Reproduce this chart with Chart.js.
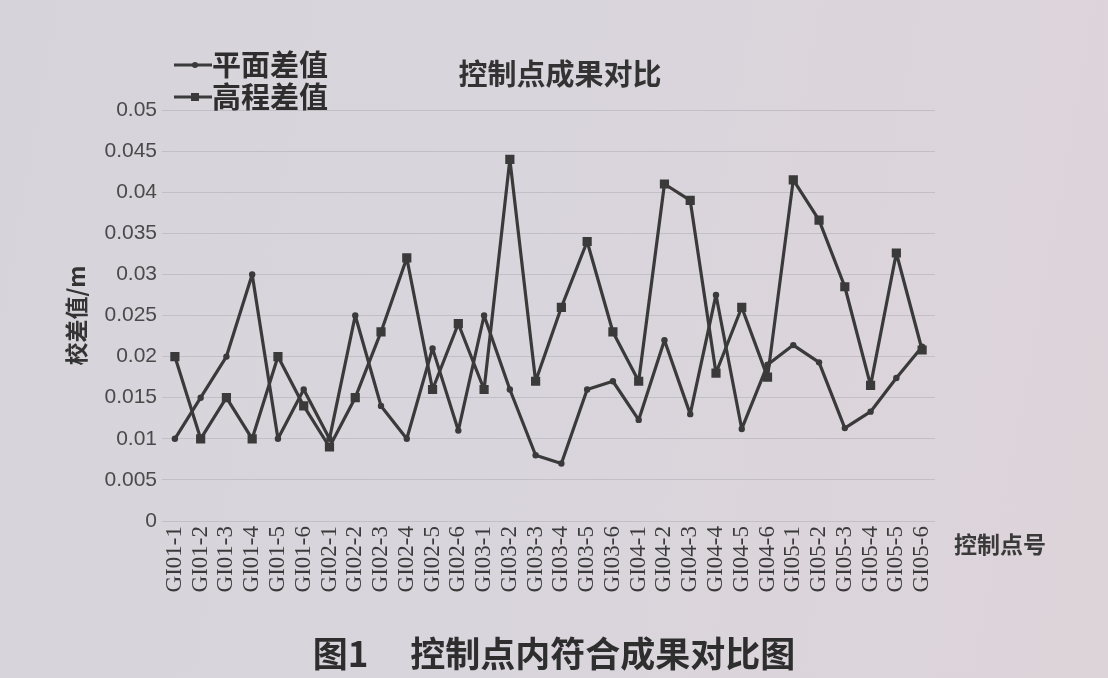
<!DOCTYPE html>
<html>
<head>
<meta charset="utf-8">
<script src="https://cdn.jsdelivr.net/npm/chart.js"></script>
<style>
  html, body { margin:0; padding:0; }
  body { width:1108px; height:678px; overflow:hidden; position:relative;
    background: linear-gradient(100deg, #d6d4da 0%, #d9d5dc 45%, #ddd4da 100%); }
  #c { position:absolute; left:0; top:0; }
  #cap { position:absolute; left:0; top:626px; width:1108px; text-align:center;
    font-family:"Noto Sans CJK SC", sans-serif; font-weight:700; font-size:35px; color:#2e2e2e; }
  #cap .g { margin-left:42px; }
</style>
</head>
<body>
<canvas id="c" width="1108" height="678"></canvas>
<div id="cap"><span>图1</span><span class="g">控制点内符合成果对比图</span></div>
<script>
const categories = ["GI01-1","GI01-2","GI01-3","GI01-4","GI01-5","GI01-6",
  "GI02-1","GI02-2","GI02-3","GI02-4","GI02-5","GI02-6",
  "GI03-1","GI03-2","GI03-3","GI03-4","GI03-5","GI03-6",
  "GI04-1","GI04-2","GI04-3","GI04-4","GI04-5","GI04-6",
  "GI05-1","GI05-2","GI05-3","GI05-4","GI05-5","GI05-6"];
const planeDiff = [0.010,0.015,0.020,0.030,0.010,0.016,0.010,0.025,0.014,0.010,0.021,0.011,
  0.025,0.016,0.008,0.007,0.016,0.017,0.0123,0.022,0.013,0.0275,0.0112,0.019,
  0.0214,0.0193,0.0113,0.0133,0.0174,0.0212];
const heightDiff = [0.020,0.010,0.015,0.010,0.020,0.014,0.009,0.015,0.023,0.032,0.016,0.024,
  0.016,0.044,0.017,0.026,0.034,0.023,0.017,0.041,0.039,0.018,0.026,0.0175,
  0.0415,0.0366,0.0285,0.0165,0.0326,0.0208];
const yTickLabels = ["0","0.005","0.01","0.015","0.02","0.025","0.03","0.035","0.04","0.045","0.05"];
const seriesNames = ["平面差值","高程差值"];
const chartTitle = "控制点成果对比";
const yTitle = "校差值/m";
const xTitle = "控制点号";

const ink = "#3a3a3a";
const cjk = '"Noto Sans CJK SC", sans-serif';

const extras = {
  id: "extras",
  afterDraw(chart) {
    const ctx = chart.ctx;
    ctx.save();
    ctx.fillStyle = "#333";
    ctx.font = "700 29px " + cjk;
    ctx.textAlign = "center";
    ctx.textBaseline = "middle";
    ctx.fillText(chartTitle, 560, 74);
    const ys = [65, 97];
    chart.data.datasets.forEach((ds, i) => {
      const y = ys[i];
      ctx.strokeStyle = ds.borderColor;
      ctx.lineWidth = 3;
      ctx.beginPath(); ctx.moveTo(174, y); ctx.lineTo(212, y); ctx.stroke();
      ctx.fillStyle = ds.borderColor;
      if (ds.pointStyle === "rect") { ctx.fillRect(191, y - 4, 8, 8); }
      else { ctx.beginPath(); ctx.arc(195, y, 3, 0, Math.PI * 2); ctx.fill(); }
      ctx.fillStyle = "#2e2e2e";
      ctx.font = "700 29px " + cjk;
      ctx.textAlign = "left";
      ctx.fillText(ds.label, 212, y);
    });
    ctx.font = "700 23px " + cjk;
    ctx.textAlign = "left";
    ctx.fillStyle = "#3a3a3a";
    ctx.fillText(xTitle, 954, 544);
    ctx.restore();
  }
};

new Chart(document.getElementById("c"), {
  type: "line",
  data: {
    labels: categories,
    datasets: [
      { label: seriesNames[0], data: planeDiff, borderColor: ink, backgroundColor: ink,
        borderWidth: 3.2, borderJoinStyle: "round", pointStyle: "circle", pointRadius: 3.2,
        pointBorderWidth: 0, tension: 0 },
      { label: seriesNames[1], data: heightDiff, borderColor: ink, backgroundColor: ink,
        borderWidth: 3.2, borderJoinStyle: "round", pointStyle: "rect", pointRadius: 6.5,
        pointBorderWidth: 0, tension: 0 }
    ]
  },
  options: {
    responsive: false,
    animation: false,
    layout: { padding: { left: 0, top: 110, right: 173, bottom: 0 } },
    plugins: { legend: { display: false }, tooltip: { enabled: false }, title: { display: false } },
    scales: {
      x: {
        offset: true,
        grid: { display: false, drawTicks: false },
        border: { display: false },
        ticks: { autoSkip: false, minRotation: 90, maxRotation: 90, padding: 5, color: "#3a3a3a",
          font: { family: '"Liberation Serif", serif', size: 23 } },
        afterFit(s) { s.height = 157; }
      },
      y: {
        min: 0, max: 0.05,
        grid: { color: "#c2bfc6", lineWidth: 1, drawTicks: false },
        border: { display: false },
        ticks: { stepSize: 0.005, padding: 5, color: "#4a4a4a",
          font: { family: '"Liberation Sans", sans-serif', size: 21 },
          callback: (v, i) => yTickLabels[i] },
        title: { display: true, text: yTitle, color: "#333", padding: { top: 62, bottom: 0 },
          font: { family: cjk, size: 23, weight: "700" } },
        afterFit(s) { s.width = 162; }
      }
    }
  },
  plugins: [extras]
});
</script>
</body>
</html>
